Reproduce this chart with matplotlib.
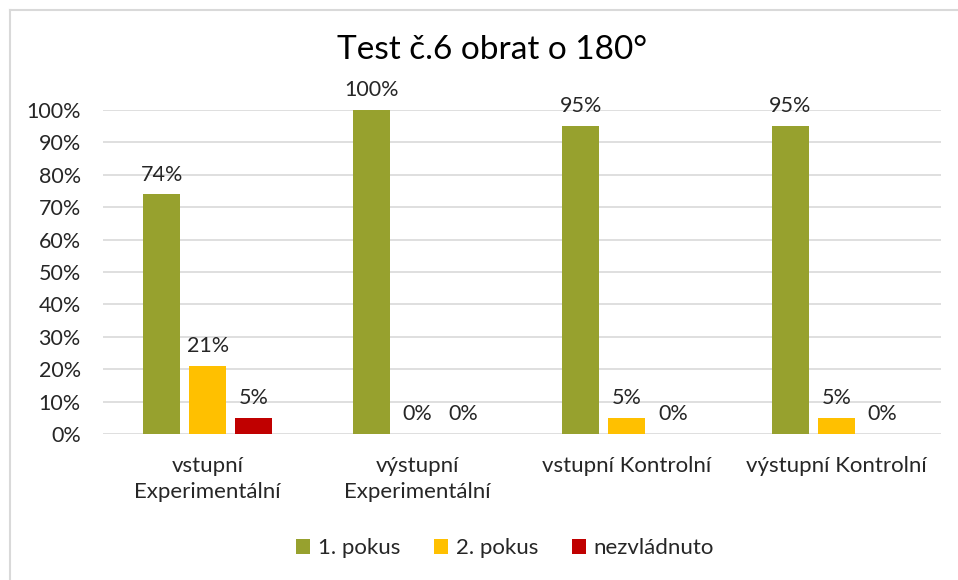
import numpy as np
import matplotlib.pyplot as plt
from matplotlib.lines import Line2D
from matplotlib.ticker import PercentFormatter

categories = ["vstupní\nExperimentální", "výstupní\nExperimentální",
              "vstupní Kontrolní", "výstupní Kontrolní"]
series_names = ["1. pokus", "2. pokus", "nezvládnuto"]
pokus1 = [74, 100, 95, 95]
pokus2 = [21, 0, 5, 5]
nezvladnuto = [5, 0, 0, 0]
colors = ["#97A12E", "#FFC000", "#C00000"]

plt.rcParams["font.family"] = ["Lato", "DejaVu Sans"]
W, H = 958, 580
fig = plt.figure(figsize=(W / 100, H / 100), dpi=100)
ax = fig.add_axes([103 / W, (H - 434) / H, (941 - 103) / W, (434 - 110) / H])

x = np.arange(len(categories))
bw = 0.176
offs = [-0.22, 0.0, 0.22]
for vals, name, col, off in zip([pokus1, pokus2, nezvladnuto], series_names, colors, offs):
    bars = ax.bar(x + off, np.array(vals) / 100, bw, color=col, label=name, zorder=3)
    for b, v in zip(bars, vals):
        ax.annotate(f"{v}%", (b.get_x() + b.get_width() / 2, b.get_height()),
                    xytext=(0, 7), textcoords="offset points",
                    ha="center", va="bottom", fontsize=15.5, color="#262626")

ax.set_xlim(-0.5, len(categories) - 0.5)
ax.set_ylim(0, 1.0)
ax.set_yticks(np.arange(0, 1.01, 0.1))
ax.yaxis.set_major_formatter(PercentFormatter(1.0, decimals=0))
ax.grid(axis="y", color="#D9D9D9", lw=1.2, zorder=0)
for s in ax.spines.values():
    s.set_visible(False)
ax.tick_params(axis="both", length=0, colors="#262626")
ax.tick_params(axis="y", pad=16, labelsize=15.5)
ax.tick_params(axis="x", pad=16, labelsize=16)
ax.set_xticks(x)
ax.set_xticklabels(categories, linespacing=1.35)

fig.text(492 / W, 1 - 50 / H, "Test č.6 obrat o 180°", ha="center", va="center",
         fontsize=24, color="#000000")

fig.legend(loc="center", bbox_to_anchor=(505 / W, 1 - 548 / H), ncol=3, frameon=False,
           fontsize=16, handlelength=0.65, handleheight=0.65, handletextpad=0.35,
           columnspacing=1.5, labelcolor="#262626")

# chart border (cropped on right and bottom)
fig.add_artist(Line2D([10 / W, 10 / W], [0, 1 - 10 / H], transform=fig.transFigure,
                      color="#D9D9D9", lw=1.5))
fig.add_artist(Line2D([10 / W, 1], [1 - 10 / H, 1 - 10 / H], transform=fig.transFigure,
                      color="#D9D9D9", lw=1.5))

fig.savefig("out.png", dpi=100)
